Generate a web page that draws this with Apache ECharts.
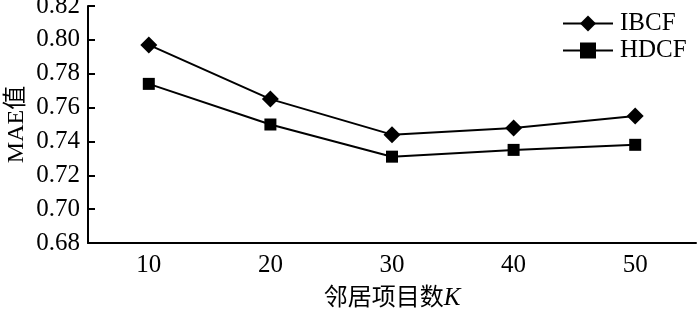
<!DOCTYPE html>
<html>
<head>
<meta charset="utf-8">
<script src="https://cdn.jsdelivr.net/npm/echarts@6/dist/echarts.min.js"></script>
<style>
    html, body { margin: 0; padding: 0; background: #fff; }
    #chart { width: 700px; height: 311px; }
</style>
</head>
<body>
<div id="chart"></div>
<script>
// 邻居项目数 K
const kList = ["10", "20", "30", "40", "50"];
const ibcf = [0.797, 0.765, 0.744, 0.748, 0.755];
const hdcf = [0.774, 0.750, 0.731, 0.735, 0.738];
const yTicks = { min: 0.68, max: 0.82, step: 0.02 };

const serif = "'Liberation Serif', 'Times New Roman', serif";
const cjk = "'Liberation Serif', 'Noto Sans CJK SC', serif";

let chart = echarts.init(document.getElementById("chart"));

let options = {
    animation: false,
    color: ["#000", "#000"],
    legend: {
        orient: "vertical",
        left: 557,
        top: 6,
        itemWidth: 50,
        itemHeight: 20,
        itemGap: 2,
        textStyle: {
            fontFamily: serif,
            fontSize: 25,
            color: "#000",
            padding: [0, 0, 0, 2]
        },
        data: ["IBCF", "HDCF"]
    },
    grid: {
        left: 88,
        right: 4,
        top: 6,
        bottom: 68,
        outerBoundsMode: "none"
    },
    xAxis: {
        type: "category",
        data: kList,
        boundaryGap: true,
        name: "{a|邻居项目数}{b|K}",
        nameLocation: "middle",
        nameGap: 43,
        nameTextStyle: {
            rich: {
                a: { fontFamily: cjk, fontSize: 24, color: "#000" },
                b: { fontFamily: serif, fontSize: 25, fontStyle: "italic", color: "#000" }
            }
        },
        axisLine: { lineStyle: { color: "#000", width: 2 } },
        axisTick: { inside: true, length: 7, lineStyle: { color: "#000", width: 2 } },
        axisLabel: {
            margin: 10,
            fontFamily: serif,
            fontSize: 25,
            color: "#000"
        },
        splitLine: { show: false }
    },
    yAxis: {
        type: "value",
        min: yTicks.min,
        max: yTicks.max,
        interval: yTicks.step,
        name: "MAE值",
        nameLocation: "middle",
        nameGap: 59,
        nameMoveOverlap: false,
        nameTextStyle: {
            fontFamily: cjk,
            fontSize: 24,
            color: "#000"
        },
        axisLine: { show: true, lineStyle: { color: "#000", width: 2 } },
        axisTick: { show: true, inside: true, length: 7, lineStyle: { color: "#000", width: 2 } },
        axisLabel: {
            margin: 8,
            fontFamily: serif,
            fontSize: 25,
            color: "#000",
            formatter: function (v) { return v.toFixed(2); }
        },
        splitLine: { show: false }
    },
    series: [
        {
            name: "IBCF",
            type: "line",
            data: ibcf,
            symbol: "diamond",
            symbolSize: 17,
            lineStyle: { color: "#000", width: 2 },
            itemStyle: { color: "#000" }
        },
        {
            name: "HDCF",
            type: "line",
            data: hdcf,
            symbol: "rect",
            symbolSize: 12,
            lineStyle: { color: "#000", width: 2 },
            itemStyle: { color: "#000" }
        }
    ]
};

chart.setOption(options);
</script>
</body>
</html>
